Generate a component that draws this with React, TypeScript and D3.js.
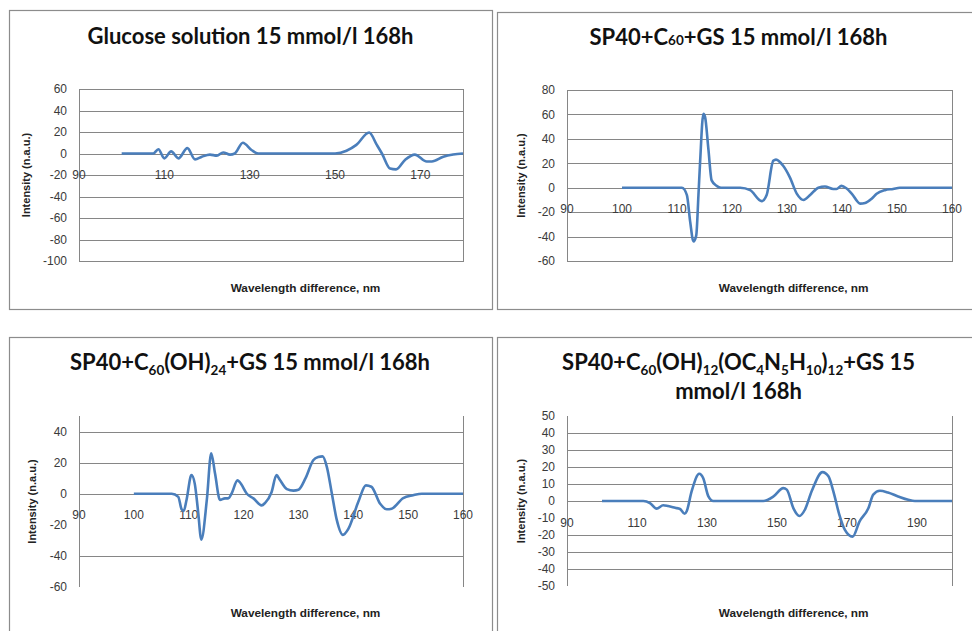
import React from 'react';
import * as d3 from 'd3';

// Glucose solution 15 mmol/l 168h
const glucoseWl = [100, 107.4, 108.6, 110, 111.6, 113.3, 115.4, 117.2, 118.8, 120.7, 122.3, 123.8, 125.4, 126.5, 128.4, 130.5, 132, 150, 152.7, 155, 158, 159.8, 161, 162.9, 164.3, 166.4, 168.7, 171.5, 172.7, 175.4, 177.7, 180];
const glucoseInt = [0, 0, 4, -4.5, 2, -4.5, 5, -5.5, -3, -1, -2, 1, -1, 0, 10, 3, 0, 0, 2.5, 8, 19.5, 8, 0, -14, -14.8, -6, -1, -7.5, -7.5, -3, -1, 0];

// SP40+C60+GS
const c60Wl = [100, 110.9, 111.8, 112.4, 113, 113.5, 113.9, 114.2, 114.8, 115.1, 115.7, 116.3, 117.2, 118, 121.5, 123.3, 125.4, 126.3, 127.5, 128, 129.3, 130.5, 131.8, 133, 134.2, 135.7, 136.9, 138.4, 139, 139.9, 140.8, 141.8, 143.3, 144.2, 145.4, 146.3, 147.8, 149.3, 150.5, 160];
const c60Int = [0, 0, -6, -28, -44, -39, -6, 21, 60.5, 58, 32, 6, 1.5, 0, 0, -2, -11, -6, 22, 23, 18, 8.7, -5, -10, -6, 0, 1, -1, -1, 1.5, -0.5, -5, -13, -12.5, -9, -5, -2, -1, 0, 0];

// SP40+C60(OH)24+GS
const ohWl = [100, 106.9, 108.1, 108.7, 109.1, 109.6, 110.5, 111.1, 111.7, 112.3, 113.3, 114.1, 114.8, 115.7, 116.6, 117.2, 117.8, 118.9, 119.3, 120.6, 121.8, 123.3, 123.9, 125.1, 126, 126.6, 127.9, 129.1, 130, 131.3, 132.7, 133.6, 134.4, 135.2, 136.1, 137, 138.1, 139.1, 140.9, 142.3, 143.3, 144.9, 146.1, 147, 149.1, 150.9, 152.5, 160];
const ohInt = [0, 0, -2, -10, -11, -4, 12, 6.5, -11, -29.5, -4, 26, 13, -4, -3, -3, 0, 8.6, 7.5, 0, -3, -7.5, -6, 1, 12, 9, 3, 2, 2.5, 10, 21.5, 23.6, 24, 17, 0, -17, -26.5, -22.6, -5.4, 5.4, 4.5, -6.5, -10, -9.6, -2.8, -1, 0, 0];

// SP40+C60(OH)12(OC4N5H10)12+GS
const argWl = [100, 111.8, 113.7, 115.6, 117.5, 118.9, 120.9, 122.3, 123.6, 124.2, 125.6, 127.8, 128.9, 130.4, 131.8, 146.1, 149, 151.8, 152.8, 154.7, 156.4, 158, 159.9, 163, 164.7, 166.1, 167.8, 169.4, 171.6, 173.6, 176.1, 177.5, 179.4, 181.7, 184.6, 187.5, 189.4, 200];
const argInt = [0, 0, -1.2, -4.5, -2.5, -3, -4, -4.7, -7.5, -6, 5.6, 16, 13.5, 2.7, 0, 0, 2.7, 7.6, 6.7, -4.3, -8.8, -5, 5.7, 17, 14.5, 5.7, -8, -17, -21, -12, -4.3, 3.7, 6, 5, 2.7, 0.7, 0, 0];

const xTicks1 = [90, 110, 130, 150, 170];
const yTicks1 = [-100, -80, -60, -40, -20, 0, 20, 40, 60];
const xTicks2 = [90, 100, 110, 120, 130, 140, 150, 160];
const yTicks2 = [-60, -40, -20, 0, 20, 40, 60, 80];
const xTicks3 = [90, 100, 110, 120, 130, 140, 150, 160];
const yTicks3 = [-60, -40, -20, 0, 20, 40];
const xTicks4 = [90, 110, 130, 150, 170, 190];
const yTicks4 = [-50, -40, -30, -20, -10, 0, 10, 20, 30, 40, 50];

type Seg = { t: string; sub?: boolean; small?: boolean };

const title1: Seg[][] = [[{ t: 'Glucose solution 15 mmol/l 168h' }]];
const title2: Seg[][] = [[{ t: 'SP40+C' }, { t: '60', small: true }, { t: '+GS 15 mmol/l 168h' }]];
const title3: Seg[][] = [[{ t: 'SP40+C' }, { t: '60', sub: true }, { t: '(OH)' }, { t: '24', sub: true }, { t: '+GS 15 mmol/l 168h' }]];
const title4: Seg[][] = [
  [{ t: 'SP40+C' }, { t: '60', sub: true }, { t: '(OH)' }, { t: '12', sub: true }, { t: '(OC' }, { t: '4', sub: true }, { t: 'N' }, { t: '5', sub: true }, { t: 'H' }, { t: '10', sub: true }, { t: ')' }, { t: '12', sub: true }, { t: '+GS 15' }],
  [{ t: 'mmol/l 168h' }],
];

const BLUE = '#4A7EBB';
const GRID = '#868686';
const FONT = "'Liberation Sans', Arial, sans-serif";

function Title({ lines, cx, y0, lh }: { lines: Seg[][]; cx: number; y0: number; lh: number }) {
  return (
    <g>
      {lines.map((segs, li) => {
        let shift = 0;
        return (
          <text key={li} x={cx} y={y0 + li * lh} textAnchor="middle" fontFamily="Lato, 'Open Sans', sans-serif" fontWeight="bold" fontSize={22} fill="#111">
            {segs.map((s, i) => {
              const want = s.sub ? 5 : 0;
              const dy = want - shift;
              shift = want;
              return (
                <tspan key={i} dy={dy} fontSize={s.sub || s.small ? 13.5 : 22}>{s.t}</tspan>
              );
            })}
          </text>
        );
      })}
    </g>
  );
}

type PanelProps = {
  frame: [number, number, number, number];
  plot: { l: number; r: number; t: number; b: number };
  xDomain: [number, number];
  yDomain: [number, number];
  xTicks: number[];
  yTicks: number[];
  gridSkip?: number;
  wl: number[];
  intensity: number[];
  boxed: boolean;
  title: Seg[][];
  titleX: number;
  titleY: number;
  yTitleX: number;
  xTitleX: number;
  xTitleY: number;
};

function Panel(p: PanelProps) {
  const x = d3.scaleLinear().domain(p.xDomain).range([p.plot.l, p.plot.r]);
  const y = d3.scaleLinear().domain(p.yDomain).range([p.plot.b, p.plot.t]);
  const line = d3.line<number>()
    .x((_, i) => x(p.wl[i]))
    .y(d => y(d))
    .curve(d3.curveMonotoneX);
  const [fx, fy, fw, fh] = p.frame;
  const grid = p.yTicks.filter(t => t > p.yDomain[0] && t < p.yDomain[1] && t !== p.gridSkip);
  return (
    <g>
      <rect x={fx + 0.5} y={fy + 0.5} width={fw} height={fh} fill="#fff" stroke="#8c8c8c" strokeWidth={1.2} />
      <Title lines={p.title} cx={p.titleX} y0={p.titleY} lh={29} />
      {grid.map(t => (
        <line key={t} x1={p.plot.l} x2={p.plot.r} y1={Math.round(y(t)) + 0.5} y2={Math.round(y(t)) + 0.5} stroke={GRID} strokeWidth={1} />
      ))}
      {p.boxed ? (
        <rect x={p.plot.l + 0.5} y={p.plot.t + 0.5} width={p.plot.r - p.plot.l} height={p.plot.b - p.plot.t} fill="none" stroke={GRID} strokeWidth={1} />
      ) : (
        <g>
          <line x1={p.plot.l + 0.5} x2={p.plot.l + 0.5} y1={p.plot.t} y2={p.plot.b} stroke={GRID} />
          <line x1={p.plot.r + 0.5} x2={p.plot.r + 0.5} y1={p.plot.t} y2={p.plot.b} stroke={GRID} />
        </g>
      )}
      {p.yTicks.map(t => (
        <text key={t} x={p.plot.l - 12} y={y(t) + 4.3} textAnchor="end" fontFamily={FONT} fontSize={12} fill="#3a3a3a">{t}</text>
      ))}
      {p.xTicks.map(t => (
        <text key={t} x={x(t)} y={y(0) + 25.5} textAnchor="middle" fontFamily={FONT} fontSize={12} fill="#3a3a3a">{t}</text>
      ))}
      <path d={line(p.intensity) || ''} fill="none" stroke={BLUE} strokeWidth={2.6} strokeLinejoin="round" />
      <text transform={`translate(${p.yTitleX},${(p.plot.t + p.plot.b) / 2}) rotate(-90)`} textAnchor="middle" dominantBaseline="central" fontFamily={FONT} fontWeight="bold" fontSize={11} fill="#222">Intensity (n.a.u.)</text>
      <text x={p.xTitleX} y={p.xTitleY} textAnchor="middle" fontFamily={FONT} fontWeight="bold" fontSize={11.8} fill="#222">Wavelength difference, nm</text>
    </g>
  );
}

export default function App() {
  return (
    <svg width={972} height={631} style={{ position: 'absolute', left: 0, top: 0, background: '#fff' }}>
      <Panel frame={[9, 10, 483, 299]} plot={{ l: 79, r: 463, t: 89, b: 261 }} xDomain={[90, 180]} yDomain={[-100, 60]}
        xTicks={xTicks1} yTicks={yTicks1} wl={glucoseWl} intensity={glucoseInt} boxed title={title1}
        titleX={250.5} titleY={44} yTitleX={25.5} xTitleX={305.5} xTitleY={292} />
      <Panel frame={[497, 12, 480, 297]} plot={{ l: 567, r: 952, t: 90, b: 261 }} xDomain={[90, 160]} yDomain={[-60, 80]}
        xTicks={xTicks2} yTicks={yTicks2} wl={c60Wl} intensity={c60Int} boxed title={title2}
        titleX={738.5} titleY={45} yTitleX={520.5} xTitleX={793.7} xTitleY={292} />
      <Panel frame={[9, 337, 483, 300]} plot={{ l: 79, r: 463, t: 416, b: 587 }} xDomain={[90, 160]} yDomain={[-60, 50]}
        xTicks={xTicks3} yTicks={yTicks3} gridSkip={-20} wl={ohWl} intensity={ohInt} boxed={false} title={title3}
        titleX={250} titleY={370} yTitleX={32} xTitleX={305.5} xTitleY={617} />
      <Panel frame={[497, 337, 480, 300]} plot={{ l: 567, r: 952, t: 416, b: 586 }} xDomain={[90, 200]} yDomain={[-50, 50]}
        xTicks={xTicks4} yTicks={yTicks4} gridSkip={-10} wl={argWl} intensity={argInt} boxed={false} title={title4}
        titleX={738.5} titleY={370} yTitleX={520.5} xTitleX={793.7} xTitleY={617} />
    </svg>
  );
}
